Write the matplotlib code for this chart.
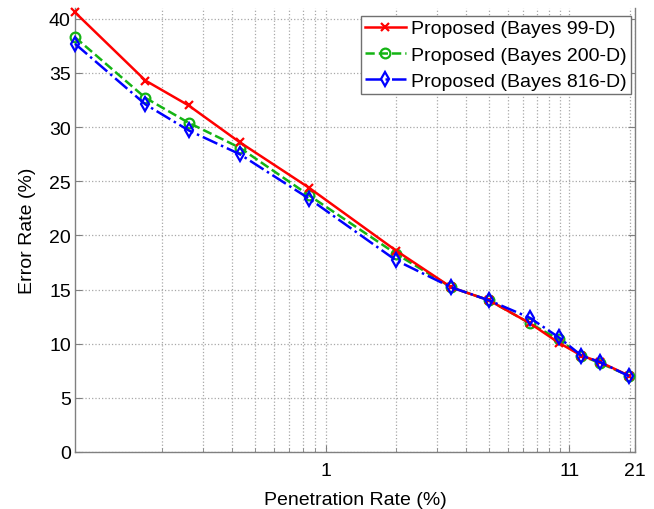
import matplotlib
matplotlib.use('Agg')
import matplotlib.pyplot as plt
from matplotlib.ticker import FixedLocator, NullFormatter

plt.rcParams['font.family'] = ['Liberation Sans', 'DejaVu Sans']

# penetration rate (%) and error rate (%)
pen_rate = [0.085, 0.17, 0.26, 0.43, 0.85, 2.0, 3.45, 5.0, 7.45, 9.9, 12.4, 14.9, 19.8]
err_99 = [40.6, 34.3, 32.0, 28.6, 24.4, 18.6, 15.2, 14.0, 11.9, 10.1, 8.9, 8.3, 7.05]
err_200 = [38.3, 32.7, 30.4, 28.1, 23.7, 18.3, 15.2, 14.0, 11.9, 10.4, 8.9, 8.2, 7.05]
err_816 = [37.7, 32.1, 29.7, 27.5, 23.4, 17.7, 15.2, 14.0, 12.4, 10.6, 8.9, 8.3, 7.0]
labels = ['Proposed (Bayes 99-D)', 'Proposed (Bayes 200-D)', 'Proposed (Bayes 816-D)']

x_major = [1, 11, 21]
x_minor = [0.2, 0.3, 0.4, 0.5, 0.6, 0.7, 0.8, 0.9, 2, 3, 4, 5, 6, 7, 8, 9, 10, 20]
y_ticks = [0, 5, 10, 15, 20, 25, 30, 35, 40]

fig = plt.figure(figsize=(6.54, 5.10), dpi=100)
ax = fig.add_axes([75/654, 57/510, 560/654, 444/510])

ax.plot(pen_rate, err_99, '-', color='#ff0000', lw=1.8, marker='x', ms=6, mew=1.6,
        label=labels[0], clip_on=False, zorder=5)
ax.plot(pen_rate, err_200, '--', color='#14b414', lw=1.8, marker='o', ms=7, mew=1.6,
        mfc='none', label=labels[1], clip_on=False, zorder=4)
ax.plot(pen_rate, err_816, '-.', color='#0000ff', lw=1.8, marker='d', ms=7, mew=1.6,
        mfc='none', label=labels[2], clip_on=False, zorder=6)

ax.set_xscale('log')
ax.set_xlim(0.085, 21)
ax.set_ylim(0, 41)
ax.xaxis.set_major_locator(FixedLocator(x_major))
ax.set_xticklabels([str(v) for v in x_major])
ax.xaxis.set_minor_locator(FixedLocator(x_minor))
ax.xaxis.set_minor_formatter(NullFormatter())
ax.set_yticks(y_ticks)

ax.grid(True, which='major', ls=':', color='#a8a8a8', lw=0.9)
ax.grid(True, which='minor', axis='x', ls=':', color='#a8a8a8', lw=0.9)

for s in ['left', 'right', 'bottom']:
    ax.spines[s].set_color('#808080')
    ax.spines[s].set_linewidth(1.0)
ax.spines['top'].set_visible(False)

ax.tick_params(which='both', direction='in', colors='#808080', labelcolor='black',
               labelsize=14, right=True, top=False)
ax.tick_params(which='major', length=5)
ax.tick_params(which='minor', length=3)
ax.tick_params(axis='x', pad=7)
ax.tick_params(axis='y', pad=3)

ax.set_xlabel('Penetration Rate (%)', fontsize=14, labelpad=8.5)
ax.set_ylabel('Error Rate (%)', fontsize=14, labelpad=9)

leg = ax.legend(loc='upper right', bbox_to_anchor=(631/654, 1 - 17/510),
                bbox_transform=fig.transFigure, fontsize=14, frameon=True,
                fancybox=False, framealpha=1, edgecolor='#707070', borderaxespad=0,
                borderpad=0.2, handlelength=2.1, handletextpad=0.3,
                labelspacing=0.45, numpoints=1)
leg.get_frame().set_linewidth(1.0)

fig.savefig('out.png', dpi=100)
